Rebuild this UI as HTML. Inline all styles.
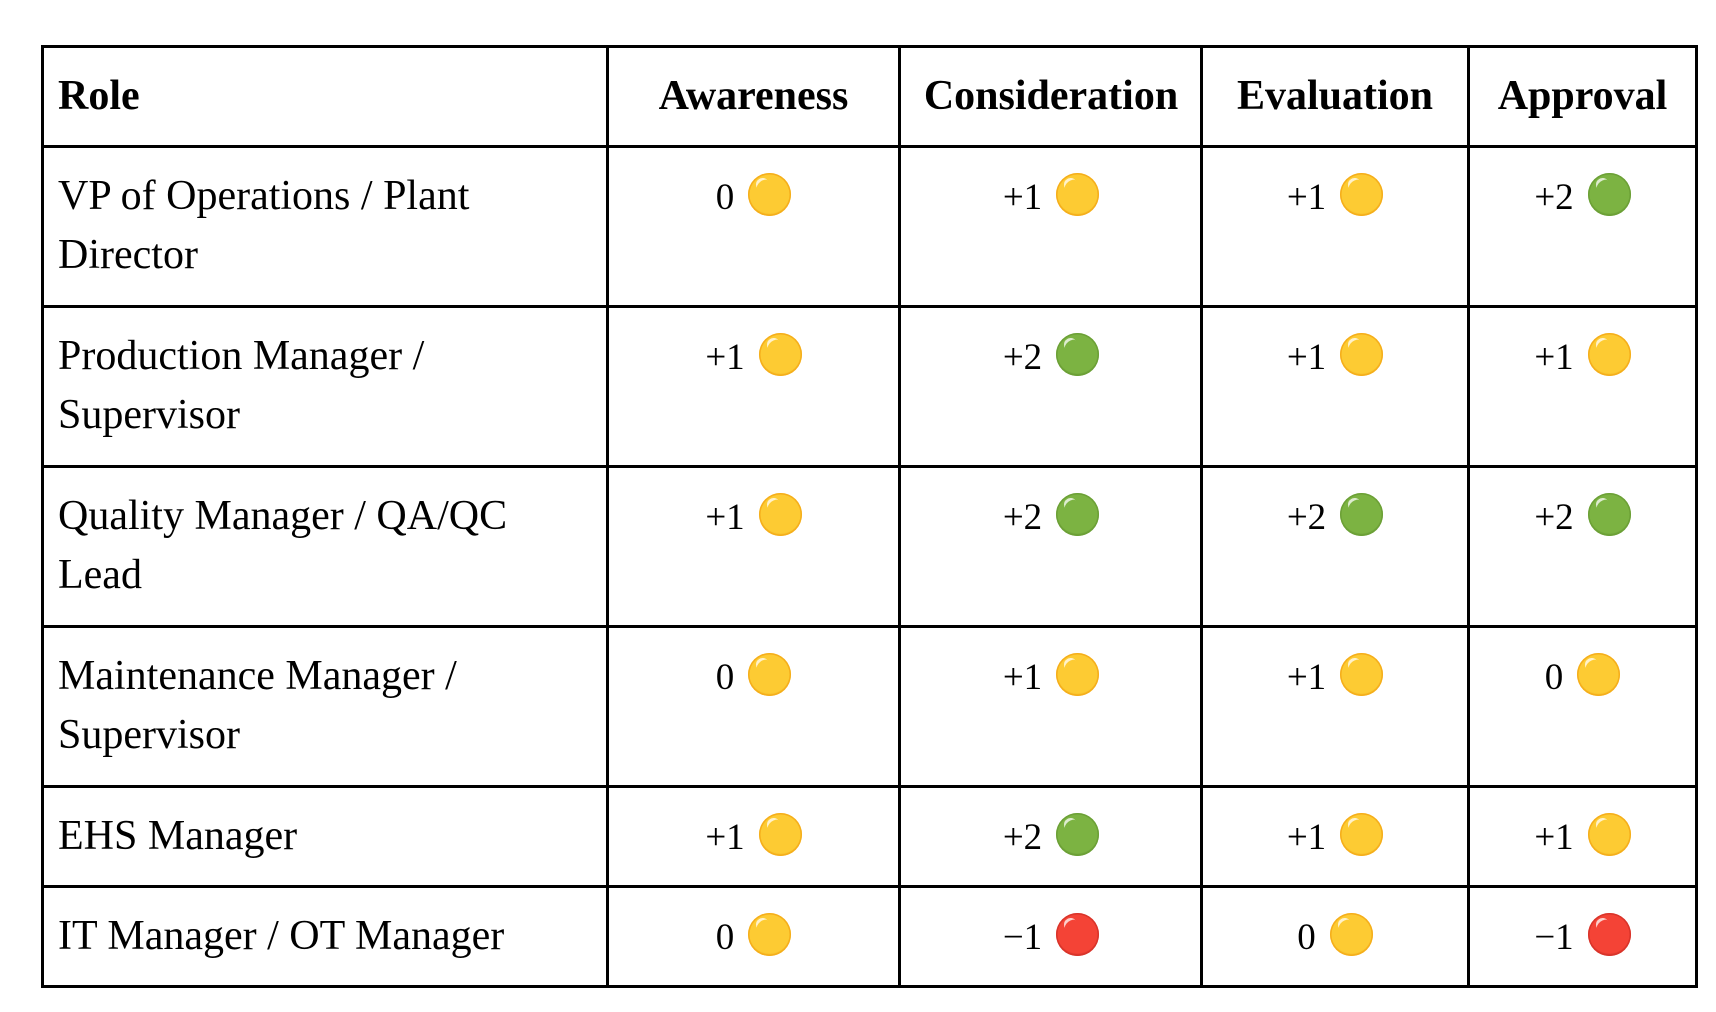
<!DOCTYPE html>
<html>
<head>
<meta charset="utf-8">
<style>
  html,body{margin:0;padding:0;background:#fff;}
  body{width:1716px;height:1012px;position:relative;overflow:hidden;
       font-family:"Liberation Serif","DejaVu Serif",serif;color:#000;}
  .h{position:absolute;background:#000;height:3px;left:41px;width:1657px;}
  .v{position:absolute;background:#000;width:3px;top:45px;height:943px;}
  .t{position:absolute;font-size:42px;line-height:59px;white-space:nowrap;}
  .b{font-weight:bold;}
  .l{left:58px;width:540px;text-align:left;}
  .c1{left:608px;width:291px;text-align:center;}
  .c2{left:900px;width:302px;text-align:center;}
  .c3{left:1202px;width:266px;text-align:center;}
  .c4{left:1469px;width:227px;text-align:center;}
  .n{font-size:37px;}
  .dot{display:inline-block;width:43px;height:43px;border-radius:50%;
       vertical-align:-7px;margin-left:14px;position:relative;box-sizing:border-box;}
  .dot::after{content:"";position:absolute;left:8px;top:5px;width:13px;height:10px;
       border-top:3px solid rgba(255,255,255,0.75);border-radius:50%;
       transform:rotate(-38deg);}
  .y{background:#FDCB33;box-shadow:inset 0 0 0 1.5px #F5AE1B, inset 0 -2px 1px rgba(230,150,0,0.35);}
  .g{background:#7CB342;box-shadow:inset 0 0 0 1.5px #6CA036, inset 0 -2px 1px rgba(60,110,30,0.3);}
  .r{background:#F44336;box-shadow:inset 0 0 0 1.5px #D9342A, inset 0 -2px 1px rgba(150,20,20,0.3);}
</style>
</head>
<body>
  <div class="h" style="top:45px"></div>
  <div class="h" style="top:145px"></div>
  <div class="h" style="top:305px"></div>
  <div class="h" style="top:465px"></div>
  <div class="h" style="top:625px"></div>
  <div class="h" style="top:785px"></div>
  <div class="h" style="top:885px"></div>
  <div class="h" style="top:985px"></div>
  <div class="v" style="left:41px"></div>
  <div class="v" style="left:606px"></div>
  <div class="v" style="left:898px"></div>
  <div class="v" style="left:1200px"></div>
  <div class="v" style="left:1467px"></div>
  <div class="v" style="left:1695px"></div>

  <div class="t b l" style="top:67px">Role</div>
  <div class="t b c1" style="top:67px">Awareness</div>
  <div class="t b c2" style="top:67px">Consideration</div>
  <div class="t b c3" style="top:67px">Evaluation</div>
  <div class="t b c4" style="top:67px">Approval</div>

  <div class="t l" style="top:167px">VP of Operations / Plant<br>Director</div>
  <div class="t c1" style="top:167px"><span class="n">0</span><span class="dot y"></span></div>
  <div class="t c2" style="top:167px"><span class="n">+1</span><span class="dot y"></span></div>
  <div class="t c3" style="top:167px"><span class="n">+1</span><span class="dot y"></span></div>
  <div class="t c4" style="top:167px"><span class="n">+2</span><span class="dot g"></span></div>

  <div class="t l" style="top:327px">Production Manager /<br>Supervisor</div>
  <div class="t c1" style="top:327px"><span class="n">+1</span><span class="dot y"></span></div>
  <div class="t c2" style="top:327px"><span class="n">+2</span><span class="dot g"></span></div>
  <div class="t c3" style="top:327px"><span class="n">+1</span><span class="dot y"></span></div>
  <div class="t c4" style="top:327px"><span class="n">+1</span><span class="dot y"></span></div>

  <div class="t l" style="top:487px">Quality Manager / QA/QC<br>Lead</div>
  <div class="t c1" style="top:487px"><span class="n">+1</span><span class="dot y"></span></div>
  <div class="t c2" style="top:487px"><span class="n">+2</span><span class="dot g"></span></div>
  <div class="t c3" style="top:487px"><span class="n">+2</span><span class="dot g"></span></div>
  <div class="t c4" style="top:487px"><span class="n">+2</span><span class="dot g"></span></div>

  <div class="t l" style="top:647px">Maintenance Manager /<br>Supervisor</div>
  <div class="t c1" style="top:647px"><span class="n">0</span><span class="dot y"></span></div>
  <div class="t c2" style="top:647px"><span class="n">+1</span><span class="dot y"></span></div>
  <div class="t c3" style="top:647px"><span class="n">+1</span><span class="dot y"></span></div>
  <div class="t c4" style="top:647px"><span class="n">0</span><span class="dot y"></span></div>

  <div class="t l" style="top:807px">EHS Manager</div>
  <div class="t c1" style="top:807px"><span class="n">+1</span><span class="dot y"></span></div>
  <div class="t c2" style="top:807px"><span class="n">+2</span><span class="dot g"></span></div>
  <div class="t c3" style="top:807px"><span class="n">+1</span><span class="dot y"></span></div>
  <div class="t c4" style="top:807px"><span class="n">+1</span><span class="dot y"></span></div>

  <div class="t l" style="top:907px">IT Manager / OT Manager</div>
  <div class="t c1" style="top:907px"><span class="n">0</span><span class="dot y"></span></div>
  <div class="t c2" style="top:907px"><span class="n">−1</span><span class="dot r"></span></div>
  <div class="t c3" style="top:907px"><span class="n">0</span><span class="dot y"></span></div>
  <div class="t c4" style="top:907px"><span class="n">−1</span><span class="dot r"></span></div>
</body>
</html>
